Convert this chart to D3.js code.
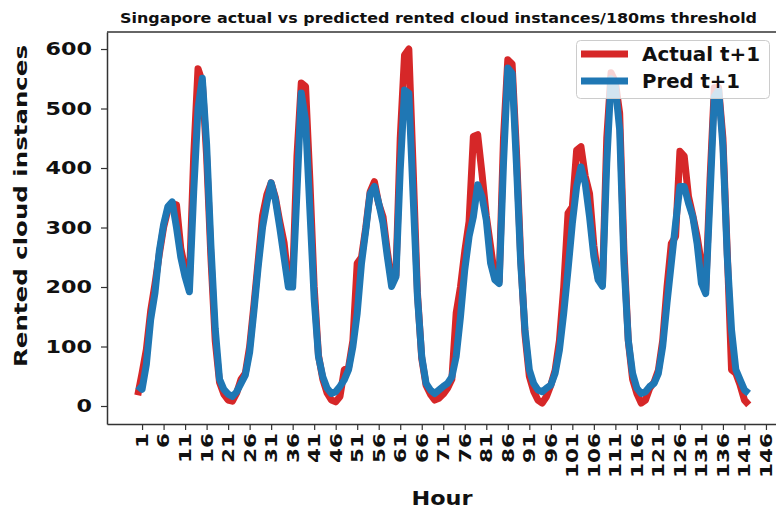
<!DOCTYPE html>
<html><head><meta charset="utf-8">
<script src="https://cdn.jsdelivr.net/npm/d3@7"></script>
<style>
body{margin:0;background:#fff;}
svg{display:block;}
text{font-family:"DejaVu Sans",sans-serif;font-weight:bold;fill:#111;}
</style>
</head><body>
<svg id="chart" width="776" height="510"></svg>
<script>
const titleText = "Singapore actual vs predicted rented cloud instances/180ms threshold";
const xLabel = "Hour";
const yLabel = "Rented cloud instances";
const seriesNames = ["Actual t+1", "Pred t+1"];
const xTicks = d3.range(1, 147, 5);
const yTicks = [0, 100, 200, 300, 400, 500, 600];

const actual = [
 18,55,95,160,205,255,300,330,340,338,265,230,210,420,567,545,420,250,110,40,20,10,8,22,
 45,55,100,170,245,320,355,375,350,310,275,210,215,420,543,537,380,200,85,45,22,10,7,16,
 61,65,110,240,250,300,360,377,340,318,260,210,220,450,590,600,400,190,80,35,20,10,13,20,
 30,45,156,200,260,310,453,456,391,320,268,215,210,450,582,575,430,250,120,50,25,10,5,16,
 35,60,110,200,324,335,430,436,386,357,270,215,205,450,560,545,492,260,110,45,21,5,10,30,
 40,60,110,200,273,285,428,420,352,320,285,240,195,380,535,535,450,260,61,55,35,10,2
];
const predicted = [
 34,28,70,145,190,260,305,335,343,300,250,217,192,360,500,551,440,270,130,45,28,20,16,24,
 38,52,90,160,235,300,341,375,346,300,250,200,200,360,526,480,330,180,83,49,30,21,24,33,
 44,61,100,156,240,296,357,369,341,307,251,201,217,397,531,526,352,184,83,38,27,21,27,33,
 38,49,83,150,229,285,318,372,352,313,240,212,206,408,568,559,408,240,128,61,38,27,24,30,
 35,55,94,156,229,307,369,402,374,318,251,212,201,408,550,537,464,240,111,55,30,21,24,33,
 38,55,100,173,240,307,369,369,341,318,273,206,189,352,520,531,436,251,128,61,44,27,21
];
const hours = d3.range(actual.length);
const colors = ["#d62728", "#1f77b4"];

const svg = d3.select("#chart");
const pL = 107, pR = 778, pT = 32, pB = 424;
const x = d3.scaleLinear().domain([-7.15, 148.8]).range([pL, pR]);
const y = d3.scaleLinear().domain([-30.25, 628.6]).range([pB, pT]);

// lines
const line = d3.line().x((d, i) => x(hours[i])).y(d => y(d));
[actual, predicted].forEach((s, k) => {
  svg.append("path").datum(s)
    .attr("d", line)
    .attr("fill", "none")
    .attr("stroke", colors[k])
    .attr("stroke-width", 7)
    .attr("stroke-linejoin", "round")
    .attr("stroke-linecap", "butt");
});

// axes
const ya = svg.append("g").attr("transform", `translate(${pL},0)`)
  .call(d3.axisLeft(y).tickValues(yTicks).tickSize(6).tickSizeOuter(0).tickPadding(9).tickFormat(d3.format("d")));
ya.selectAll("text").attr("font-size", 18).attr("fill", "#111")
  .each(function(d){ d3.select(this).attr("textLength", String(d).length * 15.5).attr("lengthAdjust", "spacingAndGlyphs"); });

const xa = svg.append("g").attr("transform", `translate(0,${pB})`)
  .call(d3.axisBottom(x).tickValues(xTicks).tickSize(6).tickSizeOuter(0).tickFormat(d3.format("d")));
xa.selectAll("text")
  .attr("font-size", 15)
  .attr("fill", "#111")
  .attr("transform", "rotate(-90)")
  .attr("x", -9).attr("y", 0).attr("dy", "0.36em")
  .attr("text-anchor", "end")
  .each(function(d){ d3.select(this).attr("textLength", String(d).length * 15).attr("lengthAdjust", "spacingAndGlyphs"); });

[ya, xa].forEach(g => {
  g.select(".domain").attr("stroke", "#333").attr("stroke-width", 1.5);
  g.selectAll(".tick line").attr("stroke", "#333").attr("stroke-width", 1.2);
});
svg.append("line").attr("x1", pL).attr("x2", pR).attr("y1", pT).attr("y2", pT)
  .attr("stroke", "#333").attr("stroke-width", 1.5);
svg.append("line").attr("x1", pR).attr("x2", pR).attr("y1", pT).attr("y2", pB)
  .attr("stroke", "#333").attr("stroke-width", 1.5);

// title and labels
svg.append("text").attr("x", 438.5).attr("y", 23).attr("text-anchor", "middle")
  .attr("font-size", 14).attr("textLength", 637).attr("lengthAdjust", "spacingAndGlyphs").text(titleText);
svg.append("text").attr("x", 442).attr("y", 505).attr("text-anchor", "middle")
  .attr("font-size", 20).attr("textLength", 61).attr("lengthAdjust", "spacingAndGlyphs").text(xLabel);
svg.append("text").attr("transform", "translate(27,206) rotate(-90)").attr("text-anchor", "middle")
  .attr("font-size", 18).attr("textLength", 322).attr("lengthAdjust", "spacingAndGlyphs").text(yLabel);

// legend
const lg = svg.append("g");
lg.append("rect").attr("x", 576.5).attr("y", 40.5).attr("width", 193).attr("height", 58).attr("rx", 4)
  .attr("fill", "#fff").attr("fill-opacity", 0.8).attr("stroke", "#ccc").attr("stroke-width", 1);
const legW = [118, 98];
seriesNames.forEach((n, i) => {
  const ly = 54 + i * 27;
  lg.append("line").attr("x1", 581).attr("x2", 628).attr("y1", ly).attr("y2", ly)
    .attr("stroke", colors[i]).attr("stroke-width", 7);
  lg.append("text").attr("x", 642).attr("y", ly + 7).attr("font-size", 19)
    .attr("textLength", legW[i]).attr("lengthAdjust", "spacingAndGlyphs").text(n);
});
</script>
</body></html>
